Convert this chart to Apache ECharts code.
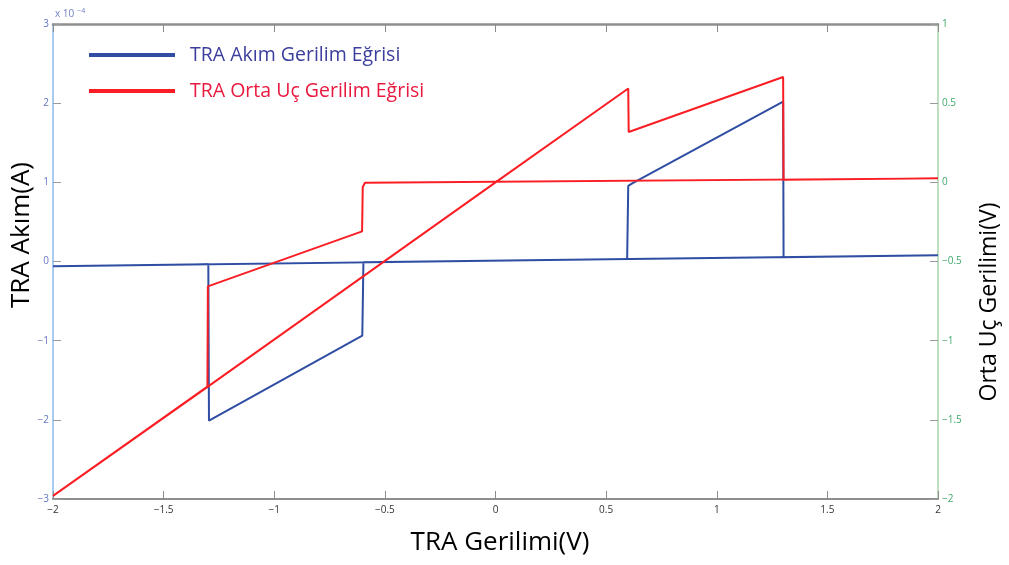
<!DOCTYPE html>
<html>
<head>
<meta charset="utf-8">
<script src="https://cdn.jsdelivr.net/npm/echarts@6/dist/echarts.min.js"></script>
<style>
  html, body { margin: 0; padding: 0; background: #fff; }
  #chart { width: 1009px; height: 565px; }
</style>
</head>
<body>
<div id="chart"></div>
<script>
// TRA gate voltage sweep (V)
var xTicks = [-2, -1.5, -1, -0.5, 0, 0.5, 1, 1.5, 2];
var leftTicks = [-3, -2, -1, 0, 1, 2, 3];          // current, x 10^-4 A
var rightTicks = [-2, -1.5, -1, -0.5, 0, 0.5, 1];  // middle terminal voltage, V

// Current curve, sweep up then back down (current in units of 10^-4 A)
var akimV = [-2, 0.595, 0.6, 0.62, 1.3, 1.302, 2,
             2, -0.597, -0.602, -1.295, -1.298, -2];
var akimI = [-0.06, 0.03, 0.955, 0.99, 2.02, 0.055, 0.08,
             0.08, -0.01, -0.935, -2.01, -0.035, -0.06];

// Middle terminal voltage curve, same sweep
var ortaV = [-2, -1.3, 0, 0.6, 0.602, 1.3, 1.302, 2,
             2, -0.59, -0.6, -0.603, -1.3, -1.302, -2];
var ortaU = [-1.98, -1.29, 0.0, 0.593, 0.318, 0.665, 0.016, 0.025,
             0.025, -0.003, -0.03, -0.31, -0.657, -1.29, -1.98];

var seriesNames = ['TRA Akım Gerilim Eğrisi', 'TRA Orta Uç Gerilim Eğrisi'];

function pairs(xs, ys) {
  return xs.map(function (x, i) { return [x, ys[i]]; });
}
function minus(v) {
  return String(v).replace('-', '\u2212');
}

var FONT = '"Open Sans", "Noto Sans", sans-serif';
var FRAME = '#8f8f8f';
var chart = echarts.init(document.getElementById('chart'), null, { renderer: 'canvas' });

chart.setOption({
  backgroundColor: '#ffffff',
  animation: false,
  textStyle: { fontFamily: FONT },
  grid: {
    left: 53, right: 71, top: 24, bottom: 66, containLabel: false
  },
  legend: {
    orient: 'vertical',
    left: 89,
    top: 45,
    padding: 0,
    icon: 'rect',
    itemWidth: 86,
    itemHeight: 4,
    itemGap: 16,
    data: [
      { name: seriesNames[0], textStyle: { color: '#3b3e9c' } },
      { name: seriesNames[1], textStyle: { color: '#e8193f' } }
    ],
    textStyle: { fontFamily: FONT, fontSize: 19.5, padding: [0, 0, 0, 10] }
  },
  xAxis: [
    {
      type: 'value', position: 'bottom', gridIndex: 0,
      min: xTicks[0], max: xTicks[xTicks.length - 1], interval: 0.5,
      axisLine: { show: true, onZero: false, lineStyle: { color: FRAME, width: 2 } },
      axisTick: { show: true, inside: true, length: 8, lineStyle: { color: '#8c8c8c' } },
      axisLabel: { color: '#333', fontSize: 10, margin: 6, formatter: minus },
      splitLine: { show: false }
    },
    {
      type: 'value', position: 'top', gridIndex: 0, show: true,
      min: xTicks[0], max: xTicks[xTicks.length - 1], interval: 0.5,
      axisLine: { show: true, onZero: false, lineStyle: { color: FRAME, width: 2.5 } },
      axisTick: { show: true, inside: true, length: 8, lineStyle: { color: '#8c8c8c' } },
      axisLabel: { show: false },
      splitLine: { show: false }
    }
  ],
  yAxis: [
    {
      type: 'value', position: 'left',
      min: leftTicks[0], max: leftTicks[leftTicks.length - 1], interval: 1,
      name: '{a|x 10}{b|\u22124}',
      nameLocation: 'end',
      nameGap: 2,
      nameTextStyle: {
        align: 'left', verticalAlign: 'bottom', padding: [0, 0, 0, 2],
        rich: {
          a: { fontSize: 10, color: '#6f7fc4', fontFamily: FONT },
          b: { fontSize: 7, color: '#6f7fc4', fontFamily: FONT, padding: [0, 0, 8, 3] }
        }
      },
      axisLine: { show: true, onZero: false, lineStyle: { color: '#a9cbef', width: 2 } },
      axisTick: { show: true, inside: true, length: 8, lineStyle: { color: '#9a9a9a' } },
      axisLabel: { color: '#6375c2', fontSize: 10, margin: 4, formatter: minus },
      splitLine: { show: false }
    },
    {
      type: 'value', position: 'right',
      min: rightTicks[0], max: rightTicks[rightTicks.length - 1], interval: 0.5,
      axisLine: { show: true, onZero: false, lineStyle: { color: '#bfe0bf', width: 2 } },
      axisTick: { show: true, inside: true, length: 8, lineStyle: { color: '#9a9a9a' } },
      axisLabel: { color: '#3ea86c', fontSize: 10, margin: 4, formatter: minus },
      splitLine: { show: false }
    }
  ],
  graphic: [
    {
      type: 'text', x: 22, y: 235, rotation: Math.PI / 2,
      style: { text: 'TRA Akım(A)', font: '26px ' + FONT, fill: '#000',
               textAlign: 'center', textVerticalAlign: 'middle' }
    },
    {
      type: 'text', x: 989, y: 302, rotation: Math.PI / 2,
      style: { text: 'Orta Uç Gerilimi(V)', font: '23px ' + FONT, fill: '#000',
               textAlign: 'center', textVerticalAlign: 'middle' }
    },
    {
      type: 'text', x: 500, y: 543,
      style: { text: 'TRA Gerilimi(V)', font: '26px ' + FONT, fill: '#000',
               textAlign: 'center', textVerticalAlign: 'middle' }
    }
  ],
  series: [
    {
      name: seriesNames[0], type: 'line',
      xAxisIndex: 0, yAxisIndex: 0,
      data: pairs(akimV, akimI),
      showSymbol: false, symbol: 'none',
      lineStyle: { color: '#2f4ea3', width: 2 },
      itemStyle: { color: '#2f4ea3' },
      z: 3
    },
    {
      name: seriesNames[1], type: 'line',
      xAxisIndex: 0, yAxisIndex: 1,
      data: pairs(ortaV, ortaU),
      showSymbol: false, symbol: 'none',
      lineStyle: { color: '#fa1e24', width: 2 },
      itemStyle: { color: '#fa1e24' },
      z: 4
    }
  ]
});
</script>
</body>
</html>
